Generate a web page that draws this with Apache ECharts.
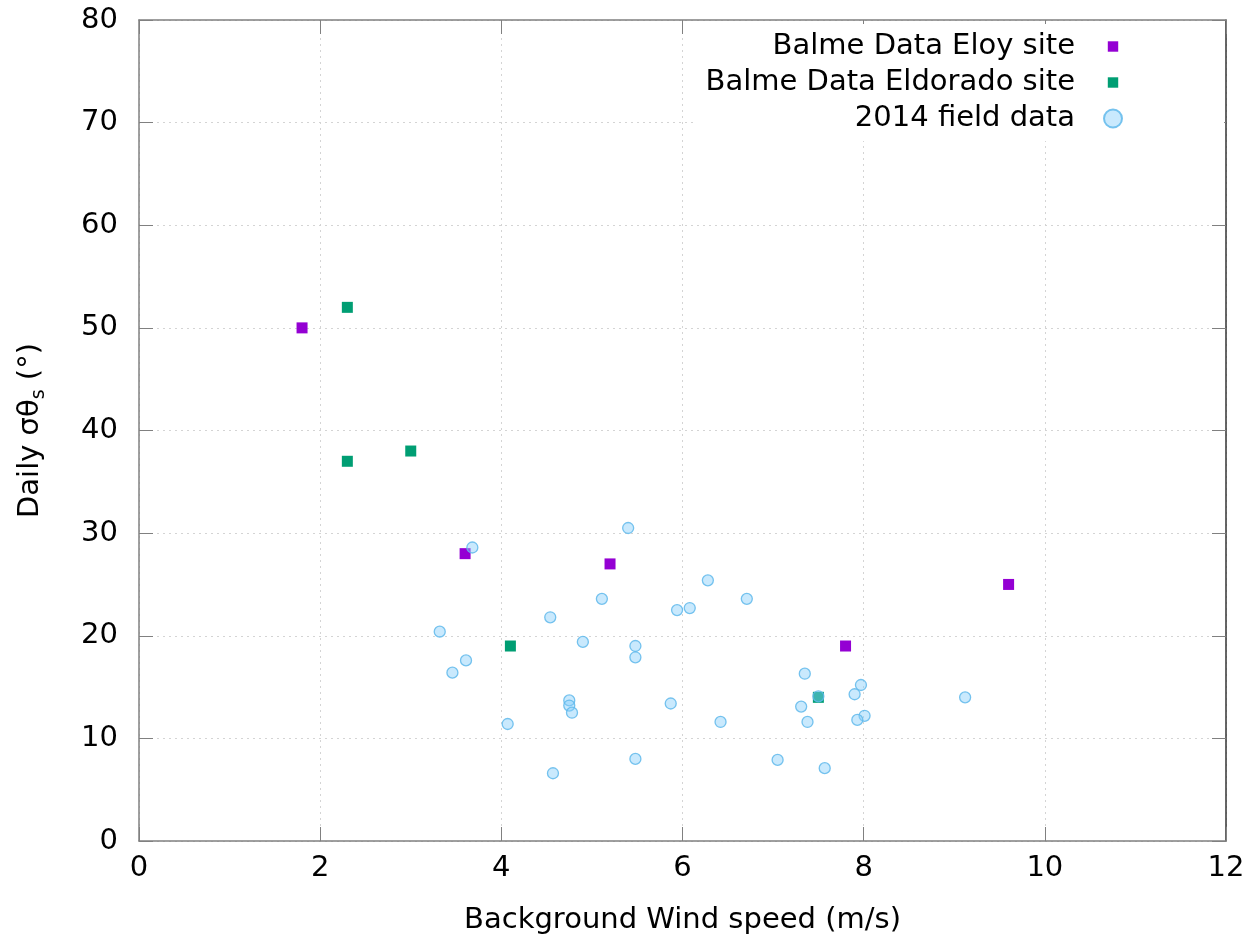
<!DOCTYPE html>
<html>
<head>
<meta charset="utf-8">
<script src="https://cdn.jsdelivr.net/npm/echarts@6/dist/echarts.min.js"></script>
<style>
  html, body { margin: 0; padding: 0; background: #fff; }
  #chart { width: 1260px; height: 942px; }
</style>
</head>
<body>
<div id="chart"></div>
<script>
// values
const xTicks = [0, 2, 4, 6, 8, 10, 12]
const yTicks = [0, 10, 20, 30, 40, 50, 60, 70, 80]
const seriesNames = ['Balme Data Eloy site', 'Balme Data Eldorado site', '2014 field data']

const eloySite = [[1.8, 50], [3.6, 28], [5.2, 27], [7.8, 19], [9.6, 25]]
const eldoradoSite = [[2.3, 52], [2.3, 37], [3.0, 38], [4.1, 19], [7.5, 14]]
const fieldData = [
  [5.40, 30.5], [3.68, 28.6], [6.28, 25.4], [5.11, 23.6], [6.71, 23.6],
  [6.08, 22.7], [5.94, 22.5], [4.54, 21.8], [3.32, 20.4], [4.90, 19.4],
  [5.48, 19.0], [5.48, 17.9], [3.61, 17.6], [3.46, 16.4], [7.35, 16.3],
  [7.97, 15.2], [7.90, 14.3], [7.50, 14.1], [9.12, 14.0], [4.75, 13.7],
  [4.75, 13.2], [4.78, 12.5], [5.87, 13.4], [7.31, 13.1], [8.01, 12.2],
  [7.93, 11.8], [7.38, 11.6], [6.42, 11.6], [4.07, 11.4], [7.05, 7.9],
  [5.48, 8.0], [7.57, 7.1], [4.57, 6.6]
]

const font = 'DejaVu Sans'
const fontSize = 29
const frameColor = '#808080'

const chart = echarts.init(document.getElementById('chart'), null, { renderer: 'canvas' })

const tickStyle = { inside: true, length: 14, lineStyle: { color: frameColor, width: 1 } }
const gridLine = { show: true, lineStyle: { color: '#d4d4d4', type: [2, 4], width: 1 } }

chart.setOption({
  animation: false,
  backgroundColor: '#fff',
  textStyle: { fontFamily: font },
  grid: { left: 139, right: 34, top: 20, bottom: 101, containLabel: false },
  legend: {
    orient: 'vertical',
    right: 36,
    top: 24,
    align: 'right',
    padding: [8, 101, 8, 10],
    backgroundColor: '#fff',
    itemWidth: 18,
    itemHeight: 18,
    itemGap: 7,
    selectedMode: false,
    textStyle: { fontFamily: font, fontSize: fontSize, color: '#000', padding: [0, 24, 0, 0] },
    data: [
      { name: seriesNames[0], icon: 'path://M0,0M4,4L15,4L15,15L4,15ZM19,19' },
      { name: seriesNames[1], icon: 'path://M0,0M4,4L15,4L15,15L4,15ZM19,19' },
      { name: seriesNames[2], icon: 'circle' }
    ]
  },
  xAxis: [
    {
      type: 'value',
      min: xTicks[0],
      max: xTicks[xTicks.length - 1],
      interval: 2,
      name: 'Background Wind speed (m/s)',
      nameLocation: 'middle',
      nameGap: 65,
      nameTextStyle: { fontFamily: font, fontSize: fontSize, color: '#000' },
      axisLine: { show: true, onZero: false, lineStyle: { color: frameColor, width: 1.5 } },
      axisTick: tickStyle,
      axisLabel: { fontFamily: font, fontSize: fontSize, color: '#000', margin: 13 },
      splitLine: gridLine
    },
    {
      type: 'value',
      position: 'top',
      min: xTicks[0],
      max: xTicks[xTicks.length - 1],
      interval: 2,
      axisLine: { show: true, onZero: false, lineStyle: { color: frameColor, width: 1.5 } },
      axisTick: tickStyle,
      axisLabel: { show: false },
      splitLine: { show: false }
    }
  ],
  yAxis: [
    {
      type: 'value',
      min: yTicks[0],
      max: yTicks[yTicks.length - 1],
      interval: 10,
      name: 'Daily σθ{sub|s} (°)',
      nameLocation: 'middle',
      nameGap: 94,
      nameRotate: 90,
      nameTextStyle: {
        fontFamily: font,
        fontSize: fontSize,
        color: '#000',
        rich: {
          sub: { fontFamily: font, fontSize: 19, color: '#000', verticalAlign: 'bottom', padding: [0, 0, -4, 0] }
        }
      },
      axisLine: { show: true, onZero: false, lineStyle: { color: frameColor, width: 1.5 } },
      axisTick: tickStyle,
      axisLabel: { fontFamily: font, fontSize: fontSize, color: '#000', margin: 21 },
      splitLine: gridLine
    },
    {
      type: 'value',
      position: 'right',
      min: yTicks[0],
      max: yTicks[yTicks.length - 1],
      interval: 10,
      axisLine: { show: true, onZero: false, lineStyle: { color: '#333', width: 1.5 } },
      axisTick: tickStyle,
      axisLabel: { show: false },
      splitLine: { show: false }
    }
  ],
  series: [
    {
      name: seriesNames[0],
      type: 'scatter',
      symbol: 'rect',
      symbolSize: 11,
      data: eloySite,
      itemStyle: { color: '#9400d3', opacity: 1 },
      z: 2
    },
    {
      name: seriesNames[1],
      type: 'scatter',
      symbol: 'rect',
      symbolSize: 11,
      data: eldoradoSite,
      itemStyle: { color: '#009e73', opacity: 1 },
      z: 2
    },
    {
      name: seriesNames[2],
      type: 'scatter',
      symbol: 'circle',
      symbolSize: 11,
      data: fieldData,
      itemStyle: {
        color: 'rgba(135, 206, 250, 0.45)',
        borderColor: 'rgba(95, 185, 235, 0.85)',
        borderWidth: 1.3,
        opacity: 1
      },
      z: 3
    }
  ]
})

window.addEventListener('resize', () => chart.resize())
</script>
</body>
</html>
